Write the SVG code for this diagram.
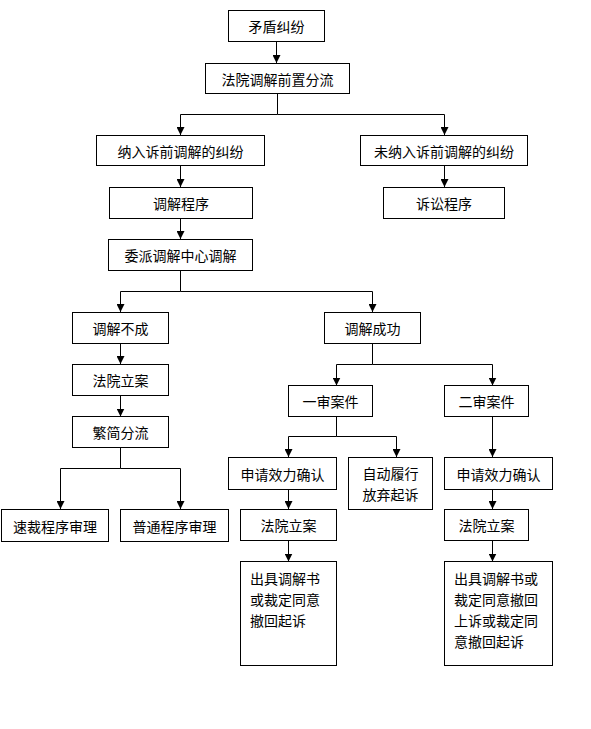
<svg xmlns="http://www.w3.org/2000/svg" width="591" height="729" viewBox="0 0 591 729">
<style>
.box{fill:#fff;stroke:#000;stroke-width:1}
.t{font-family:"Noto Sans CJK SC","Liberation Sans",sans-serif;font-size:14px;fill:#000;text-anchor:middle;dominant-baseline:central}
.tl{text-anchor:start}
.c{fill:none;stroke:#000;stroke-width:1}
</style>
<defs>
<marker id="ah" markerUnits="userSpaceOnUse" markerWidth="8" markerHeight="8" refX="8" refY="4" orient="auto">
<path d="M0,0 L8,4 L0,8 z" fill="#000"/>
</marker>
</defs>
<rect width="591" height="729" fill="#fff"/>
<g id="connectors">
<path class="c" d="M276.5,41 V63" marker-end="url(#ah)"/>
<path class="c" d="M277.5,93 V114.5 H180.5 V135" marker-end="url(#ah)"/>
<path class="c" d="M277.5,114.5 H444.5 V135" marker-end="url(#ah)"/>
<path class="c" d="M180.5,166 V187" marker-end="url(#ah)"/>
<path class="c" d="M444.5,166 V187" marker-end="url(#ah)"/>
<path class="c" d="M180.5,218 V239" marker-end="url(#ah)"/>
<path class="c" d="M180.5,270 V291.5 H120.5 V312" marker-end="url(#ah)"/>
<path class="c" d="M180.5,291.5 H372.5 V312" marker-end="url(#ah)"/>
<path class="c" d="M120.5,343 V364" marker-end="url(#ah)"/>
<path class="c" d="M120.5,395 V416.5" marker-end="url(#ah)"/>
<path class="c" d="M120.5,447 V468.5 H60.5 V509" marker-end="url(#ah)"/>
<path class="c" d="M120.5,468.5 H180.5 V509" marker-end="url(#ah)"/>
<path class="c" d="M372.5,343 V364.5 H336.5 V385.5" marker-end="url(#ah)"/>
<path class="c" d="M372.5,364.5 H492.5 V385.5" marker-end="url(#ah)"/>
<path class="c" d="M336.5,416 V436.5 H288.5 V457" marker-end="url(#ah)"/>
<path class="c" d="M336.5,436.5 H396.5 V457" marker-end="url(#ah)"/>
<path class="c" d="M492.5,416 V457" marker-end="url(#ah)"/>
<path class="c" d="M288.5,489 V509" marker-end="url(#ah)"/>
<path class="c" d="M288.5,540 V561.5" marker-end="url(#ah)"/>
<path class="c" d="M492.5,489 V509" marker-end="url(#ah)"/>
<path class="c" d="M492.5,540 V561.5" marker-end="url(#ah)"/>
</g>
<g id="n1"><rect class="box" x="228.5" y="10.5" width="96" height="31"/><text class="t" x="276.5" y="26">矛盾纠纷</text></g>
<g id="n2"><rect class="box" x="205.5" y="63.5" width="144" height="30"/><text class="t" x="277.5" y="78.5">法院调解前置分流</text></g>
<g id="n3"><rect class="box" x="96.5" y="135.5" width="168" height="30"/><text class="t" x="180.5" y="150.5">纳入诉前调解的纠纷</text></g>
<g id="n4"><rect class="box" x="360.5" y="135.5" width="167" height="30"/><text class="t" x="444" y="150.5">未纳入诉前调解的纠纷</text></g>
<g id="n5"><rect class="box" x="109.5" y="187.5" width="143" height="31"/><text class="t" x="181" y="203">调解程序</text></g>
<g id="n6"><rect class="box" x="383.5" y="187.5" width="121" height="31"/><text class="t" x="444" y="203">诉讼程序</text></g>
<g id="n7"><rect class="box" x="108.5" y="239.5" width="144" height="31"/><text class="t" x="180.5" y="255">委派调解中心调解</text></g>
<g id="n8"><rect class="box" x="72.5" y="312.5" width="96" height="31"/><text class="t" x="120.5" y="328">调解不成</text></g>
<g id="n9"><rect class="box" x="72.5" y="364.5" width="96" height="31"/><text class="t" x="120.5" y="380">法院立案</text></g>
<g id="n10"><rect class="box" x="72.5" y="416.5" width="96" height="31"/><text class="t" x="120.5" y="432">繁简分流</text></g>
<g id="n11"><rect class="box" x="1.5" y="509.5" width="107" height="32"/><text class="t" x="55" y="525.5">速裁程序审理</text></g>
<g id="n12"><rect class="box" x="120.5" y="509.5" width="108" height="32"/><text class="t" x="174.5" y="525.5">普通程序审理</text></g>
<g id="n13"><rect class="box" x="324.5" y="312.5" width="96" height="31"/><text class="t" x="372.5" y="328">调解成功</text></g>
<g id="n14"><rect class="box" x="288.5" y="385.5" width="84" height="31"/><text class="t" x="330.5" y="401">一审案件</text></g>
<g id="n15"><rect class="box" x="444.5" y="385.5" width="84" height="31"/><text class="t" x="486.5" y="401">二审案件</text></g>
<g id="n16"><rect class="box" x="228.5" y="457.5" width="108" height="32"/><text class="t" x="282.5" y="473.5">申请效力确认</text></g>
<g id="n17"><rect class="box" x="348.5" y="457.5" width="84" height="52"/><text class="t" x="390.5" y="473">自动履行</text><text class="t" x="390.5" y="494">放弃起诉</text></g>
<g id="n18"><rect class="box" x="444.5" y="457.5" width="108" height="32"/><text class="t" x="498.5" y="473.5">申请效力确认</text></g>
<g id="n19"><rect class="box" x="240.5" y="509.5" width="96" height="31"/><text class="t" x="288.5" y="525">法院立案</text></g>
<g id="n20"><rect class="box" x="444.5" y="509.5" width="84" height="31"/><text class="t" x="486.5" y="525">法院立案</text></g>
<g id="n21"><rect class="box" x="240.5" y="561.5" width="96" height="104"/><text class="t tl" x="250" y="578">出具调解书</text><text class="t tl" x="250" y="599">或裁定同意</text><text class="t tl" x="250" y="620">撤回起诉</text></g>
<g id="n22"><rect class="box" x="444.5" y="561.5" width="108" height="104"/><text class="t tl" x="454" y="578">出具调解书或</text><text class="t tl" x="454" y="599">裁定同意撤回</text><text class="t tl" x="454" y="620">上诉或裁定同</text><text class="t tl" x="454" y="641">意撤回起诉</text></g>
</svg>
